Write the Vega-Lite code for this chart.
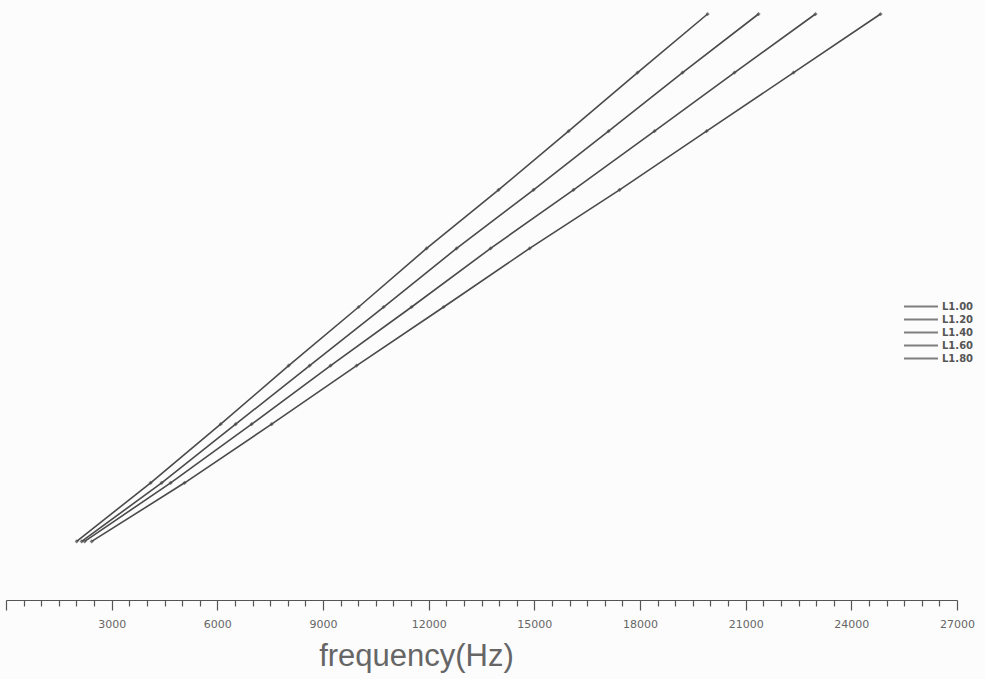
{
  "$schema": "https://vega.github.io/schema/vega-lite/v6.json",
  "width": 951,
  "height": 600,
  "autosize": {"type": "none"},
  "padding": {"left": 6, "top": 0, "right": 28, "bottom": 79},
  "background": "#fcfcfc",
  "config": {"view": {"stroke": null}},
  "data": {"values": [
    {"s": "L1.00", "k": 1, "f": 2007}, {"s": "L1.00", "k": 2, "f": 4107}, {"s": "L1.00", "k": 3, "f": 6094}, {"s": "L1.00", "k": 4, "f": 8025}, {"s": "L1.00", "k": 5, "f": 10012},
    {"s": "L1.00", "k": 6, "f": 11941}, {"s": "L1.00", "k": 7, "f": 13985}, {"s": "L1.00", "k": 8, "f": 15972}, {"s": "L1.00", "k": 9, "f": 17931}, {"s": "L1.00", "k": 10, "f": 19918},
    {"s": "L1.20", "k": 1, "f": 2149}, {"s": "L1.20", "k": 2, "f": 4420}, {"s": "L1.20", "k": 3, "f": 6520}, {"s": "L1.20", "k": 4, "f": 8621}, {"s": "L1.20", "k": 5, "f": 10721},
    {"s": "L1.20", "k": 6, "f": 12793}, {"s": "L1.20", "k": 7, "f": 14979}, {"s": "L1.20", "k": 8, "f": 17108}, {"s": "L1.20", "k": 9, "f": 19208}, {"s": "L1.20", "k": 10, "f": 21365},
    {"s": "L1.40", "k": 1, "f": 2234}, {"s": "L1.40", "k": 2, "f": 4675}, {"s": "L1.40", "k": 3, "f": 6974}, {"s": "L1.40", "k": 4, "f": 9216}, {"s": "L1.40", "k": 5, "f": 11515},
    {"s": "L1.40", "k": 6, "f": 13758}, {"s": "L1.40", "k": 7, "f": 16113}, {"s": "L1.40", "k": 8, "f": 18412}, {"s": "L1.40", "k": 9, "f": 20683}, {"s": "L1.40", "k": 10, "f": 22982},
    {"s": "L1.60", "k": 1, "f": 2433}, {"s": "L1.60", "k": 2, "f": 5072}, {"s": "L1.60", "k": 3, "f": 7542}, {"s": "L1.60", "k": 4, "f": 9955}, {"s": "L1.60", "k": 5, "f": 12425},
    {"s": "L1.60", "k": 6, "f": 14866}, {"s": "L1.60", "k": 7, "f": 17420}, {"s": "L1.60", "k": 8, "f": 19890}, {"s": "L1.60", "k": 9, "f": 22359}, {"s": "L1.60", "k": 10, "f": 24829}
  ]},
  "encoding": {
    "x": {
      "field": "f", "type": "quantitative",
      "scale": {"domain": [0, 27000], "nice": false, "zero": false},
      "axis": {
        "title": "frequency(Hz)",
        "values": [0,500,1000,1500,2000,2500,3000,3500,4000,4500,5000,5500,6000,6500,7000,7500,8000,8500,9000,9500,10000,10500,11000,11500,12000,12500,13000,13500,14000,14500,15000,15500,16000,16500,17000,17500,18000,18500,19000,19500,20000,20500,21000,21500,22000,22500,23000,23500,24000,24500,25000,25500,26000,26500,27000],
        "labelExpr": "datum.value % 3000 === 0 && datum.value > 0 ? datum.value : ''",
        "tickSize": {"condition": {"test": "datum.value % 3000 === 0", "value": 10}, "value": 6},
        "tickColor": "#555",
        "tickWidth": 1.2,
        "domainColor": "#555",
        "domainWidth": 1.2,
        "grid": false,
        "labelFont": "DejaVu Sans",
        "labelFontSize": 11,
        "labelColor": "#666",
        "labelPadding": 8,
        "labelFlush": false,
        "labelOverlap": false,
        "titleFont": "Liberation Sans",
        "titleFontSize": 31,
        "titleFontWeight": "normal",
        "titleColor": "#666",
        "titleAnchor": "start",
        "titleAlign": "center",
        "titleX": 410,
        "titleY": 56,
        "titleBaseline": "middle"
      }
    },
    "y": {
      "field": "k", "type": "quantitative",
      "scale": {"domain": [0, 10.239], "nice": false},
      "axis": null
    },
    "color": {
      "field": "s", "type": "nominal",
      "scale": {"domain": ["L1.00", "L1.20", "L1.40", "L1.60", "L1.80"], "range": ["#4a4a4a", "#4a4a4a", "#4a4a4a", "#4a4a4a", "#4a4a4a"]},
      "legend": {
        "title": null,
        "orient": "none",
        "legendX": 897,
        "legendY": 301,
        "symbolType": "stroke",
        "symbolSize": 1156,
        "symbolStrokeWidth": 2,
        "symbolStrokeColor": "#555",
        "labelFont": "DejaVu Sans",
        "labelFontSize": 10,
        "labelFontWeight": "bold",
        "labelColor": "#555",
        "labelOffset": 3,
        "clipHeight": 11,
        "rowPadding": 2,
        "symbolOffset": 0
      }
    }
  },
  "layer": [
    {"mark": {"type": "line", "strokeWidth": 1.6}},
    {"mark": {"type": "point", "shape": "diamond", "filled": true, "size": 18}}
  ]
}
